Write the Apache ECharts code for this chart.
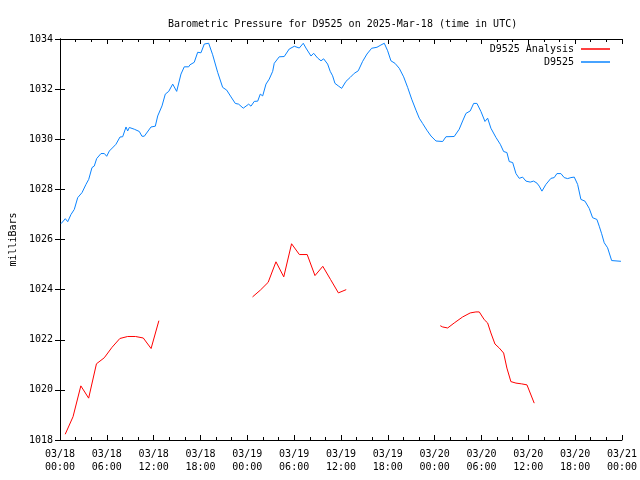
<!DOCTYPE html>
<html>
<head>
<meta charset="utf-8">
<script src="https://cdn.jsdelivr.net/npm/echarts@6/dist/echarts.min.js"></script>
<style>html,body{margin:0;padding:0;background:#fff}#c{width:640px;height:480px}</style>
</head>
<body>
<div id="c"></div>
<script>
// hours since 2025-03-18 00:00 UTC
var obsHours = [0.13,0.68,0.99,1.41,1.83,2.27,2.82,3.33,3.68,4.10,4.39,4.70,5.25,5.68,5.98,6.32,6.83,7.17,7.69,8.03,8.46,8.67,8.88,9.52,10.16,10.50,10.80,11.66,12.21,12.52,13.07,13.49,13.93,14.44,14.95,15.50,15.92,16.49,16.65,17.20,17.64,18.06,18.49,19.05,19.56,20.20,20.84,21.36,21.91,22.46,22.89,23.48,24.17,24.47,24.89,25.33,25.66,25.97,26.39,26.81,27.25,27.45,28.09,28.73,29.37,30.02,30.66,31.17,31.51,32.16,32.50,33.01,33.44,33.78,34.29,34.62,34.93,35.23,35.65,36.09,36.64,37.19,37.70,38.21,38.78,39.33,39.93,40.61,41.12,41.55,41.98,42.40,42.92,43.47,44.03,44.54,45.06,45.61,46.03,46.46,47.01,47.53,48.17,49.03,49.45,50.51,51.15,51.59,52.01,52.56,53.00,53.42,53.93,54.45,54.79,55.21,55.86,56.41,56.84,57.26,57.56,58.00,58.42,58.84,59.27,59.70,60.25,60.68,61.11,61.40,61.75,62.26,62.90,63.32,63.67,64.18,64.60,65.04,65.46,65.89,66.32,66.74,67.26,67.81,68.24,68.79,69.09,69.40,69.73,70.16,70.68,71.87];
var obsValues = [1026.63,1026.83,1026.71,1027.00,1027.20,1027.67,1027.87,1028.20,1028.40,1028.87,1028.93,1029.23,1029.43,1029.43,1029.32,1029.53,1029.69,1029.80,1030.09,1030.10,1030.49,1030.33,1030.47,1030.40,1030.31,1030.12,1030.12,1030.49,1030.52,1030.93,1031.33,1031.80,1031.91,1032.20,1031.91,1032.60,1032.89,1032.89,1032.97,1033.07,1033.47,1033.45,1033.80,1033.83,1033.37,1032.67,1032.07,1031.96,1031.69,1031.43,1031.40,1031.24,1031.40,1031.32,1031.51,1031.52,1031.80,1031.73,1032.20,1032.40,1032.71,1033.03,1033.29,1033.30,1033.60,1033.71,1033.64,1033.83,1033.64,1033.32,1033.43,1033.24,1033.13,1033.21,1033.00,1032.71,1032.53,1032.23,1032.13,1032.03,1032.31,1032.47,1032.63,1032.73,1033.11,1033.40,1033.63,1033.67,1033.76,1033.83,1033.53,1033.13,1033.03,1032.83,1032.49,1032.07,1031.60,1031.16,1030.84,1030.63,1030.36,1030.13,1029.93,1029.91,1030.10,1030.11,1030.40,1030.73,1031.03,1031.13,1031.43,1031.43,1031.11,1030.71,1030.84,1030.44,1030.07,1029.80,1029.51,1029.47,1029.11,1029.07,1028.63,1028.44,1028.49,1028.33,1028.29,1028.33,1028.25,1028.13,1027.93,1028.20,1028.44,1028.47,1028.63,1028.63,1028.47,1028.43,1028.47,1028.49,1028.20,1027.60,1027.53,1027.24,1026.87,1026.80,1026.53,1026.23,1025.87,1025.67,1025.16,1025.13];

// analysis series (null = gap)
var anaHours = [0.67,1.67,2.67,3.67,4.67,5.67,6.67,7.67,8.67,9.67,10.67,11.67,12.67,18.0,24.67,25.67,26.67,27.67,28.67,29.67,30.67,31.67,32.67,33.67,34.67,35.67,36.67,42.0,48.72,49.03,49.67,50.51,51.59,52.56,53.29,53.72,54.36,54.79,55.21,55.73,56.28,56.84,57.26,57.77,58.42,59.15,59.83,60.76];
var anaValues = [1018.23,1018.93,1020.16,1019.67,1021.04,1021.28,1021.70,1022.05,1022.13,1022.13,1022.07,1021.65,1022.76,null,1023.71,1023.98,1024.29,1025.11,1024.51,1025.83,1025.40,1025.40,1024.56,1024.93,1024.40,1023.87,1024.00,null,1022.56,1022.51,1022.47,1022.67,1022.91,1023.07,1023.11,1023.11,1022.80,1022.67,1022.27,1021.83,1021.67,1021.47,1020.87,1020.33,1020.27,1020.24,1020.20,1019.47];

var xTickLabels = ['03/18\n00:00','03/18\n06:00','03/18\n12:00','03/18\n18:00','03/19\n00:00','03/19\n06:00','03/19\n12:00','03/19\n18:00','03/20\n00:00','03/20\n06:00','03/20\n12:00','03/20\n18:00','03/21\n00:00'];
var yTickLabels = ['1018','1020','1022','1024','1026','1028','1030','1032','1034'];

var FONT = 'DejaVu Sans Mono';
var FS = 10;

function pairs(xs, ys){ return xs.map(function(x,i){ return [x, ys[i]]; }); }

var chart = echarts.init(document.getElementById('c'), null, {renderer:'canvas'});
var axisLineStyle = {color:'#000', width:1};
var legendCommon = {orient:'vertical', align:'right', padding:0, itemWidth:29, itemHeight:1.5, itemGap:0,
  icon:'rect', textStyle:{fontFamily:FONT, fontSize:FS, color:'#000', padding:[0,2,0,0]}, selectedMode:false};
chart.setOption({
  animation:false,
  backgroundColor:'#fff',
  title:{text:'Barometric Pressure for D9525 on 2025-Mar-18 (time in UTC)', left:163, top:14,
    textStyle:{fontFamily:FONT, fontSize:FS, fontWeight:'normal', color:'#000'}},
  grid:{left:59, right:18, top:39, bottom:40, containLabel:false},
  legend:[
    Object.assign({data:['D9525 Analysis'], right:30, top:44}, legendCommon),
    Object.assign({data:['D9525'], right:30, top:57}, legendCommon)
  ],
  xAxis:[
    {type:'value', min:0, max:72, interval:6, position:'bottom',
     axisLine:{show:true, lineStyle:axisLineStyle},
     axisTick:{show:true, inside:true, length:5, lineStyle:axisLineStyle},
     minorTick:{show:true, splitNumber:3, length:3, lineStyle:axisLineStyle},
     splitLine:{show:false},
     axisLabel:{margin:8, lineHeight:13, fontFamily:FONT, fontSize:FS, color:'#000',
       formatter:function(v){ return xTickLabels[Math.round(v/6)]; }}},
    {type:'value', min:0, max:72, interval:6, position:'top',
     axisLine:{show:true, lineStyle:axisLineStyle},
     axisTick:{show:true, inside:true, length:5, lineStyle:axisLineStyle},
     minorTick:{show:true, splitNumber:3, length:3, lineStyle:axisLineStyle},
     splitLine:{show:false}, axisLabel:{show:false}}
  ],
  yAxis:[
    {type:'value', min:1018, max:1034, interval:2, position:'left',
     name:'milliBars', nameLocation:'middle', nameGap:42, nameRotate:90,
     nameTextStyle:{fontFamily:FONT, fontSize:FS, color:'#000'},
     axisLine:{show:true, lineStyle:axisLineStyle},
     axisTick:{show:true, inside:true, length:5, lineStyle:axisLineStyle},
     splitLine:{show:false},
     axisLabel:{margin:7, fontFamily:FONT, fontSize:FS, color:'#000',
       formatter:function(v){ return yTickLabels[Math.round((v-1018)/2)]; }}},
    {type:'value', min:1018, max:1034, interval:2, position:'right',
     axisLine:{show:true, lineStyle:axisLineStyle},
     axisTick:{show:true, inside:true, length:5, lineStyle:axisLineStyle},
     splitLine:{show:false}, axisLabel:{show:false}}
  ],
  series:[
    {name:'D9525 Analysis', type:'line', xAxisIndex:0, yAxisIndex:0, data:pairs(anaHours, anaValues),
     showSymbol:false, connectNulls:false, lineStyle:{color:'#ff0000', width:1}, itemStyle:{color:'#ff0000'}},
    {name:'D9525', type:'line', xAxisIndex:0, yAxisIndex:0, data:pairs(obsHours, obsValues),
     showSymbol:false, lineStyle:{color:'#0a84ff', width:1}, itemStyle:{color:'#0a84ff'}}
  ]
});
</script>
</body>
</html>
